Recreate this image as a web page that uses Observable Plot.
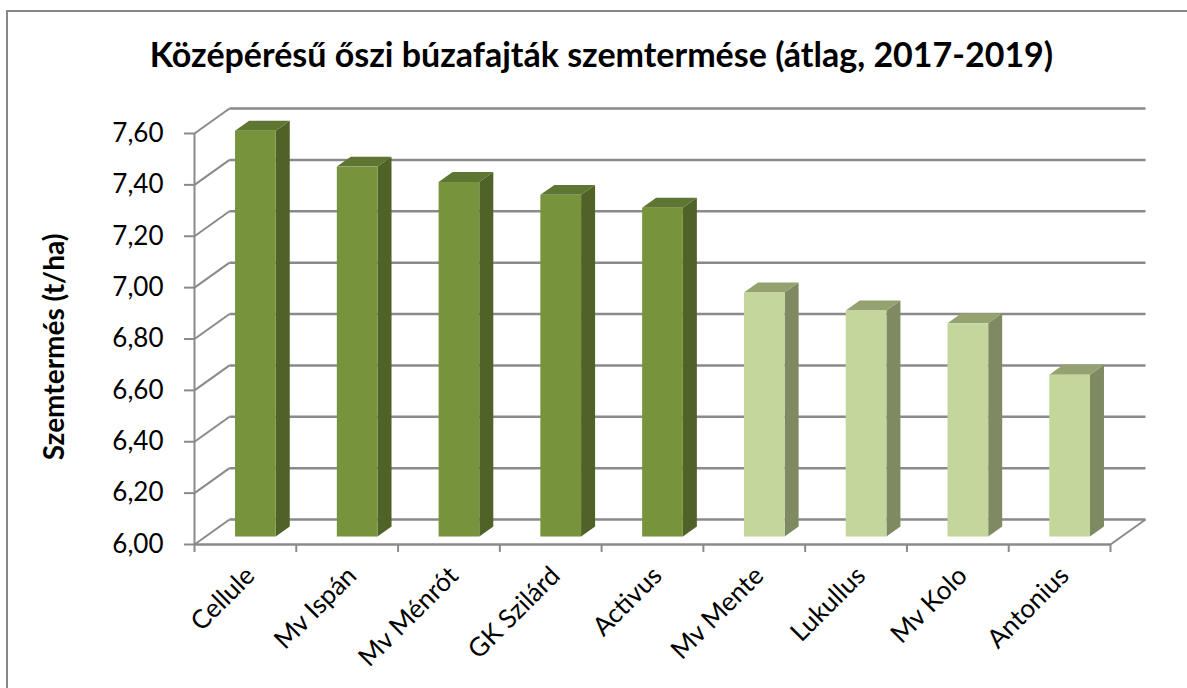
<!DOCTYPE html>
<html><head><meta charset="utf-8">
<script src="https://cdn.jsdelivr.net/npm/d3@7"></script>
<script src="https://cdn.jsdelivr.net/npm/@observablehq/plot@0.6"></script>
<style>
body{margin:0;background:#fff;font-family:Lato,"Open Sans",sans-serif;}
#wrap{position:relative;width:1187px;height:688px;overflow:hidden;background:#fff;}
#frame{position:absolute;left:6px;top:10px;width:1300px;height:800px;border:2px solid #878787;box-sizing:border-box;}
#title{position:relative;height:90px;width:1187px;box-sizing:border-box;padding-left:16px;text-align:center;font-weight:bold;font-size:34px;line-height:34px;padding-top:37px;color:#000;white-space:nowrap;}
#chart{position:relative;}
</style></head>
<body>
<div id="wrap"><div id="frame"></div>
<div id="title">Középérésű őszi búzafajták szemtermése (átlag, 2017-2019)</div>
<div id="chart"></div></div>
<script>
const categories = ["Cellule","Mv Ispán","Mv Ménrót","GK Szilárd","Activus","Mv Mente","Lukullus","Mv Kolo","Antonius"];
const yields = [7.58, 7.44, 7.38, 7.33, 7.28, 6.95, 6.88, 6.83, 6.63];
const groups = ["dark","dark","dark","dark","dark","light","light","light","light"];
const yTicks = [6.0, 6.2, 6.4, 6.6, 6.8, 7.0, 7.2, 7.4, 7.6];
const yTickLabels = ["6,00","6,20","6,40","6,60","6,80","7,00","7,20","7,40","7,60"];
const yTitle = "Szemtermés (t/ha)";

// styling / pseudo-3D geometry
const frontFill = {dark: "#77933C", light: "#C3D69B"};
const sideFill = {dark: "#4F6228", light: "#7F8A62"};
const topFill = {dark: "#5E7631", light: "#93A26F"};
const DX = 0.344, DY = 0.0971, D0 = 0.3, D1 = 0.7, BAR = 0.4;
const grid = "#8A8A8A";
const n = categories.length;
const y0 = yTicks[0], yTop = yTicks[yTicks.length - 1];

const bars = categories.map((c, i) => ({c, i, v: yields[i], g: groups[i]}));
const xl = d => d.i + 0.5 - BAR / 2 + D0 * DX;
const xr = d => d.i + 0.5 + BAR / 2 + D0 * DX;
const sideData = bars.flatMap(d => [
  {c: d.c, g: d.g, x: xr(d), y1: y0 + D0 * DY, y2: d.v + D0 * DY},
  {c: d.c, g: d.g, x: xr(d) + (D1 - D0) * DX, y1: y0 + D1 * DY, y2: d.v + D1 * DY}
]);
const topData = bars.flatMap(d => [
  {c: d.c, g: d.g, y: d.v + D0 * DY, x1: xl(d), x2: xr(d)},
  {c: d.c, g: d.g, y: d.v + D1 * DY, x1: xl(d) + (D1 - D0) * DX, x2: xr(d) + (D1 - D0) * DX}
]);
const boundaries = d3.range(n + 1);

const chart = Plot.plot({
  width: 1187, height: 598,
  marginLeft: 194, marginRight: 77, marginTop: 43, marginBottom: 144,
  x: {domain: [0, n], axis: null},
  y: {domain: [y0, yTop], axis: null},
  color: {type: "identity"},
  style: {background: "transparent", fontFamily: "Lato, 'Open Sans', sans-serif", color: "#000"},
  marks: [
    Plot.link(yTicks, {x1: DX, x2: n + DX, y1: d => d + DY, y2: d => d + DY, stroke: grid, strokeWidth: 2.5}),
    Plot.link(yTicks, {x1: 0, y1: d => d, x2: DX, y2: d => d + DY, stroke: grid, strokeWidth: 2}),
    Plot.link([y0], {x1: 0, x2: n, y1: d => d, y2: d => d, stroke: grid, strokeWidth: 2.5}),
    Plot.link([y0], {x1: n, y1: d => d, x2: n + DX, y2: d => d + DY, stroke: grid, strokeWidth: 2}),
    Plot.ruleX([0], {y1: y0, y2: yTop, stroke: grid, strokeWidth: 2}),
    Plot.ruleY(yTicks, {x1: 0, x2: -0.098, stroke: grid, strokeWidth: 2}),
    Plot.ruleX(boundaries, {y1: y0, y2: y0 - 0.031, stroke: grid, strokeWidth: 2}),
    Plot.areaY(sideData, {x: "x", y1: "y1", y2: "y2", z: "c", fill: d => sideFill[d.g]}),
    Plot.areaX(topData, {y: "y", x1: "x1", x2: "x2", z: "c", fill: d => topFill[d.g]}),
    Plot.rect(bars, {x1: xl, x2: xr, y1: y0 + D0 * DY, y2: d => d.v + D0 * DY, fill: d => frontFill[d.g]}),
    Plot.text(yTicks, {x: 0, y: d => d, text: (d, i) => yTickLabels[i], textAnchor: "end", dx: -31, fontSize: 26, fill: "#000"}),
    Plot.text(categories, {x: (d, i) => i + 0.5, y: y0, text: d => d, rotate: -45, textAnchor: "end", dx: 5, dy: 27, fontSize: 26, fill: "#000"}),
    Plot.text([yTitle], {frameAnchor: "left", text: d => d, rotate: -90, textAnchor: "middle", dx: -139, dy: 8, fontSize: 28, fontWeight: "bold", fill: "#000"})
  ]
});
document.getElementById("chart").appendChild(chart);
</script>
</body></html>
